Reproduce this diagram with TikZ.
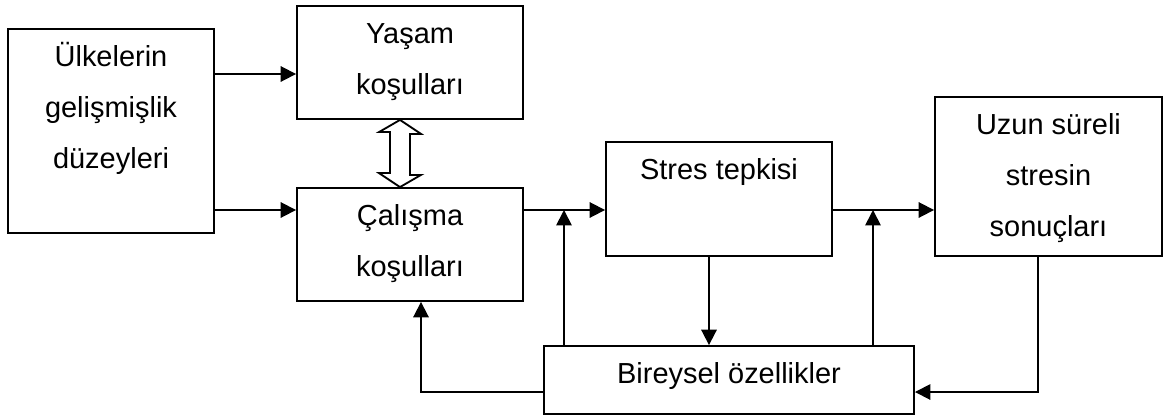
\documentclass[tikz,border=0pt]{standalone}
\usepackage{fontspec}
\setmainfont{Liberation Sans}
\usetikzlibrary{arrows.meta}

\tikzset{
    box/.style={draw, line width=1.3pt, inner sep=0pt},
    txt/.style={anchor=north, yshift=-1.6pt, inner sep=0pt, align=center,
        font=\fontsize{20.6}{36.3}\selectfont},
    arr/.style={-{Triangle[length=11pt,width=11pt]}, line width=1.3pt},
}

\begin{document}
\begin{tikzpicture}[x=0.025cm, y=-0.025cm]
    \useasboundingbox (0,0) rectangle (1172,416);

    % Define coordinates
    \coordinate (rowtop) at (0,74);
    \coordinate (rowmid) at (0,210);
    \coordinate (rowlow) at (0,392);
    \coordinate (colA) at (421,0);
    \coordinate (colB) at (564,0);
    \coordinate (colC) at (709,0);
    \coordinate (colD) at (873,0);
    \coordinate (colE) at (1038,0);
    \coordinate (colM) at (400,0);

    % Draw boxes
    \node[box, minimum width=5.15cm, minimum height=5.1cm] (ulke) at (111,131) {};
    \node[box, minimum width=5.65cm, minimum height=2.825cm] (yasam) at (410,62.5) {};
    \node[box, minimum width=5.65cm, minimum height=2.825cm] (calisma) at (410,244.5) {};
    \node[box, minimum width=5.65cm, minimum height=2.85cm] (stres) at (719,199) {};
    \node[box, minimum width=5.675cm, minimum height=3.975cm] (uzun) at (1048.5,176.5) {};
    \node[box, minimum width=9.25cm, minimum height=1.7cm] (bireysel) at (729,380) {};

    % Texts in boxes
    \node[txt] (ulketxt) at (ulke.north) {\strut Ülkelerin\\gelişmişlik\\düzeyleri};
    \node[txt] (yasamtxt) at (yasam.north) {\strut Yaşam\\koşulları};
    \node[txt] (calismatxt) at (calisma.north) {\strut Çalışma\\koşulları};
    \node[txt] (strestxt) at (stres.north) {\strut Stres tepkisi};
    \node[txt] (uzuntxt) at (uzun.north) {\strut Uzun süreli\\stresin\\sonuçları};
    \node[txt] (bireyseltxt) at (bireysel.north) {\strut Bireysel özellikler};

    % Double arrow between living and working conditions
    \draw[line width=1.3pt, fill=white] (yasam.south -| colM) -- ++(21,14) -- ++(-11,0)
        -- ++(0,41) -- ++(11,0) -- (calisma.north -| colM) -- ++(-21,-14)
        -- ++(11,0) -- ++(0,-41) -- ++(-11,0) -- cycle;

    % Draw arrows
    \draw[arr] (ulke.east |- rowtop) -- (yasam.west |- rowtop);
    \draw[arr] (ulke.east |- rowmid) -- (calisma.west |- rowmid);
    \draw[arr] (calisma.east |- rowmid) -- (stres.west |- rowmid);
    \draw[arr] (stres.east |- rowmid) -- (uzun.west |- rowmid);
    \draw[arr] (stres.south -| colC) -- (bireysel.north -| colC);

    % Feedback arrows
    \draw[arr] (bireysel.north -| colB) -- (colB |- rowmid);
    \draw[arr] (bireysel.north -| colD) -- (colD |- rowmid);
    \draw[arr] (bireysel.west |- rowlow) -| (calisma.south -| colA);
    \draw[arr] (uzun.south -| colE) |- (bireysel.east |- rowlow);
\end{tikzpicture}
\end{document}
